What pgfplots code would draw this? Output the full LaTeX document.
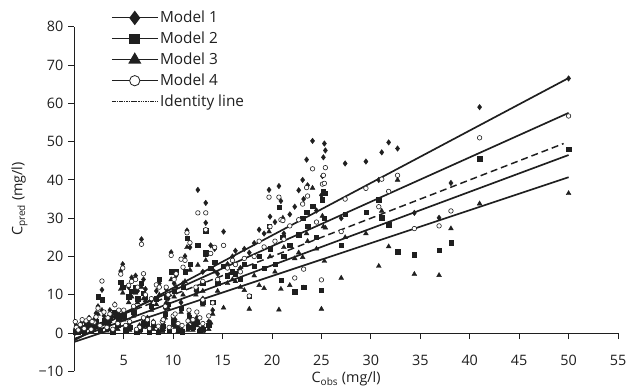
\documentclass[border=0pt]{standalone}
\usepackage{fontspec}
\setmainfont{Open Sans}
\usepackage{pgfplots}
\pgfplotsset{compat=1.18}
\definecolor{ink}{gray}{0.12}
\begin{document}
\fontsize{14.5bp}{17bp}\selectfont
\begin{tikzpicture}
\begin{axis}[
  name=ax,
  scale only axis,
  width=549bp, height=348bp,
  xmin=0, xmax=55, ymin=-10, ymax=80,
  clip=false,
  axis x line*=middle, axis y line*=left,
  axis line style={ink, line width=0.9bp},
  xtick={5,10,...,55},
  xticklabels={5,10,15,20,25,30,35,40,45,50,55},
  ytick={-10,0,10,...,80},
  yticklabels={−10,0,10,20,30,40,50,60,70,80},
  xtick align=outside, ytick align=outside,
  major tick length=6bp,
  tick style={ink, line width=0.9bp},
  ticklabel style={font=\fontsize{14.5bp}{17bp}\selectfont, text=ink},
  xticklabel style={yshift=-11bp},
  xlabel={C\textsubscript{obs} (mg/l)},
  ylabel={C\textsubscript{pred} (mg/l)},
  xlabel style={at={(axis description cs:0.5,0)}, anchor=north, inner sep=0pt, yshift=0bp, font=\fontsize{14.5bp}{17bp}\selectfont, text=ink},
  ylabel style={at={(axis description cs:-0.0856,0.5)}, anchor=south, inner sep=0pt, font=\fontsize{14.5bp}{17bp}\selectfont, text=ink},
  legend style={at={(axis description cs:0.068,1.052)}, anchor=north west, draw=none, fill=none,
    font=\fontsize{15.5bp}{18bp}\selectfont, text=ink, row sep=3.2bp, inner sep=0pt, cells={anchor=west}},
  legend image code/.code={\draw[mark repeat=2,mark phase=2] plot coordinates {(0bp,0bp) (23bp,0bp) (46bp,0bp)};},
]
\addlegendimage{ink, line width=1.1bp, mark=diamond*, mark size=6.5bp, mark options={solid, fill=ink}}
\addlegendentry{Model 1}
\addlegendimage{ink, line width=1.1bp, mark=square*, mark size=4.8bp, mark options={solid, fill=ink}}
\addlegendentry{Model 2}
\addlegendimage{ink, line width=1.1bp, mark=triangle*, mark size=6.5bp, mark options={solid, fill=ink}}
\addlegendentry{Model 3}
\addlegendimage{ink, line width=1.1bp, mark=*, mark size=5.2bp, mark options={solid, fill=white, draw=ink, line width=0.8bp}}
\addlegendentry{Model 4}
\addlegendimage{ink, line width=0.8bp, dash pattern=on 1.6bp off 0.8bp}
\addlegendentry{Identity line}

% Model 1
\addplot[only marks, forget plot, mark=diamond*, mark size=2.8bp, mark options={fill=ink, draw=ink}] coordinates {
(0.1,1.0)(0.2,2.0)(0.4,0.5)(0.6,1.5)(0.8,3.0)(1.0,0.8)(1.2,2.5)(1.5,4.0)(1.7,1.2)(2.0,3.5)(2.2,5.2)(2.4,7.0)(2.8,11.3)(2.6,1.0)(3.0,4.5)(3.3,2.0)(3.6,6.0)(3.9,0.8)(4.1,7.5)(4.4,3.0)(4.7,16.2)(4.9,18.0)(5.0,5.5)(5.2,1.5)(5.5,12.0)(5.8,14.5)(6.0,6.5)(6.2,15.0)(6.4,11.0)(6.6,2.0)(6.8,24.5)(7.0,14.0)(7.2,11.5)(7.4,4.0)(7.6,0.8)(7.8,8.5)(8.0,3.0)(8.3,11.0)(8.6,13.0)(8.9,2.0)(9.2,6.5)(9.5,9.0)(9.8,21.1)(10.0,4.0)(10.3,15.0)(10.5,1.5)(10.8,8.0)(11.0,13.0)(11.2,20.1)(11.4,26.8)(11.6,5.0)(11.7,22.4)(12.0,2.5)(12.3,11.0)(12.5,37.4)(12.7,1.0)(13.0,16.0)(13.3,34.0)(13.3,28.8)(13.6,3.0)(13.8,22.9)(14.0,6.0)(14.2,22.0)(14.5,15.5)(15.1,26.5)(15.5,18.0)(16.0,20.0)(16.3,21.5)(16.8,17.0)(17.2,22.0)(17.7,21.0)(18.2,23.5)(18.7,27.0)(19.2,26.0)(19.7,37.4)(19.8,30.4)(20.3,29.0)(20.7,38.4)(20.9,34.5)(21.1,29.5)(21.2,26.0)(21.8,31.0)(22.3,33.0)(22.7,37.3)(23.1,40.0)(23.2,35.0)(23.5,45.3)(23.6,38.6)(24.1,50.2)(24.5,32.0)(25.0,36.0)(25.1,41.0)(25.2,45.9)(25.3,49.5)(25.4,47.7)(27.0,30.0)(27.4,44.3)(29.5,44.8)(30.8,40.0)(31.1,47.2)(31.8,49.8)(32.7,48.2)(34.4,31.4)(36.9,30.1)(38.1,39.2)(41.0,59.0)(50.0,66.5)(5.6,2.5)(6.3,0.5)(7.0,3.5)(8.5,0.6)(9.0,2.8)(9.6,1.0)(10.2,3.5)(10.9,0.8)(11.5,2.0)(12.4,4.0)(13.0,1.5)(9.3,11.5)(10.1,13.0)(4.5,5.0)(3.4,3.5)(1.8,2.5)(13.0,9.0)
};
% Model 2
\addplot[only marks, forget plot, mark=square*, mark size=2.2bp, mark options={fill=ink, draw=ink}] coordinates {
(0.1,0.3)(0.2,0.8)(0.4,0.2)(0.6,1.0)(0.8,1.5)(1.0,0.4)(1.2,1.8)(1.5,2.5)(1.7,0.6)(2.0,2.2)(2.2,3.0)(2.4,9.5)(2.8,8.7)(2.6,0.5)(3.0,3.2)(3.3,1.2)(3.6,4.0)(3.9,0.4)(4.1,5.5)(4.4,2.0)(4.7,13.3)(4.9,12.0)(5.0,4.5)(5.2,0.8)(5.5,9.5)(5.8,11.0)(6.0,5.5)(6.2,12.0)(6.4,9.0)(6.6,1.0)(6.8,13.0)(7.0,10.5)(7.2,9.5)(7.4,2.5)(7.6,0.4)(7.8,7.0)(8.0,2.0)(8.3,9.0)(8.6,14.1)(8.9,1.0)(9.2,5.0)(9.5,7.5)(9.8,16.0)(10.0,3.0)(10.3,16.0)(10.5,0.8)(10.8,6.5)(11.0,12.0)(11.2,16.0)(11.4,24.7)(11.6,4.0)(11.7,18.0)(12.0,1.5)(12.3,11.5)(12.5,22.9)(12.7,0.5)(13.0,13.0)(13.3,26.7)(13.3,21.0)(13.6,2.0)(13.8,17.0)(14.0,8.0)(14.2,18.5)(14.5,13.0)(15.1,17.5)(15.5,15.0)(16.0,16.0)(16.3,15.5)(16.8,14.0)(17.2,18.0)(17.7,9.7)(18.2,17.5)(18.7,20.0)(19.2,17.0)(19.7,28.0)(19.8,22.0)(20.3,18.0)(20.7,32.9)(20.9,13.8)(21.1,25.0)(21.2,20.0)(21.8,23.0)(22.3,10.8)(22.7,25.7)(23.1,30.0)(23.2,12.0)(23.5,31.5)(23.6,28.0)(24.1,33.2)(24.5,25.0)(25.0,11.2)(25.1,34.8)(25.2,36.9)(25.3,30.0)(25.4,36.6)(27.0,22.9)(27.4,31.0)(29.5,31.5)(30.8,34.8)(31.1,30.1)(31.8,28.3)(32.7,21.3)(34.4,20.5)(36.9,21.6)(38.1,23.6)(41.0,45.5)(50.0,48.0)(5.6,1.5)(6.3,0.3)(7.0,2.5)(8.5,0.3)(9.0,1.8)(9.6,0.5)(10.2,2.5)(10.9,0.4)(11.5,1.5)(12.4,3.0)(13.0,1.0)(9.3,9.5)(10.1,11.0)(4.5,4.0)(3.4,2.8)(1.8,1.7)(13.0,8.0)
};
% Model 3
\addplot[only marks, forget plot, mark=triangle*, mark size=2.8bp, mark options={fill=ink, draw=ink}] coordinates {
(0.1,0.2)(0.2,0.5)(0.4,0.1)(0.6,0.4)(0.8,1.0)(1.0,0.2)(1.2,1.2)(1.5,1.8)(1.7,0.3)(2.0,1.5)(2.2,2.0)(2.4,5.0)(2.8,6.0)(2.6,0.2)(3.0,2.5)(3.3,0.6)(3.6,3.0)(3.9,0.2)(4.1,4.5)(4.4,1.0)(4.7,11.5)(4.9,10.5)(5.0,3.5)(5.2,0.4)(5.5,8.0)(5.8,9.5)(6.0,4.5)(6.2,10.5)(6.4,8.0)(6.6,0.5)(6.8,12.0)(7.0,9.0)(7.2,8.5)(7.4,1.5)(7.6,0.2)(7.8,6.0)(8.0,1.0)(8.3,7.5)(8.6,10.0)(8.9,0.5)(9.2,4.0)(9.5,6.5)(9.8,14.0)(10.0,2.0)(10.3,12.0)(10.5,0.4)(10.8,5.5)(11.0,10.0)(11.2,13.5)(11.4,22.4)(11.6,3.0)(11.7,16.5)(12.0,0.8)(12.3,10.0)(12.5,17.8)(12.7,0.3)(13.0,11.0)(13.3,20.3)(13.3,19.0)(13.6,1.0)(13.8,2.7)(14.0,5.0)(14.2,16.0)(14.5,11.0)(15.1,6.6)(15.5,13.0)(16.0,14.0)(16.3,13.5)(16.8,12.0)(17.2,11.2)(17.7,6.3)(18.2,15.0)(18.7,12.5)(19.2,11.7)(19.7,26.5)(19.8,20.0)(20.3,16.0)(20.7,6.1)(20.9,11.5)(21.1,30.1)(21.2,22.4)(21.8,12.5)(22.3,19.5)(22.7,21.0)(23.1,19.8)(23.2,11.8)(23.5,26.0)(23.6,24.0)(24.1,37.9)(24.5,22.0)(25.0,6.3)(25.1,30.6)(25.2,27.8)(25.3,18.8)(25.4,27.5)(27.0,14.4)(27.4,25.0)(29.5,26.0)(30.8,17.5)(31.1,31.9)(31.8,22.6)(32.7,40.0)(34.4,15.4)(36.9,15.1)(38.1,27.3)(41.0,33.8)(50.0,36.5)(5.6,0.8)(6.3,0.1)(7.0,1.5)(8.5,0.1)(9.0,1.0)(9.6,0.2)(10.2,1.5)(10.9,0.2)(11.5,0.8)(12.4,2.0)(13.0,0.5)(9.3,8.0)(10.1,9.5)(4.5,3.2)(3.4,2.0)(1.8,1.0)(13.0,7.4)
};
% Model 4
\addplot[only marks, forget plot, mark=*, mark size=2.3bp, mark options={fill=white, draw=ink, line width=0.6bp}] coordinates {
(0.1,3.0)(0.2,1.5)(0.4,0.8)(0.6,2.2)(0.8,3.5)(1.0,1.2)(1.2,3.2)(1.5,3.8)(1.7,1.0)(2.0,2.8)(2.2,4.2)(2.4,6.5)(2.8,13.6)(2.6,2.0)(3.0,5.5)(3.3,1.5)(3.6,5.0)(3.9,1.0)(4.1,7.4)(4.4,2.5)(4.7,15.4)(4.9,17.0)(5.0,6.0)(5.2,2.0)(5.5,12.5)(5.8,13.5)(6.0,7.0)(6.2,14.0)(6.4,12.0)(6.6,1.5)(6.8,23.2)(7.0,15.5)(7.2,10.0)(7.4,3.5)(7.6,1.2)(7.8,9.0)(8.0,2.8)(8.3,12.6)(8.6,12.0)(8.9,3.0)(9.2,7.0)(9.5,10.0)(9.8,20.3)(10.0,4.5)(10.3,15.5)(10.5,2.5)(10.8,19.3)(11.0,17.2)(11.2,19.0)(11.4,26.2)(11.6,6.0)(11.7,23.6)(12.0,3.5)(12.3,12.0)(12.5,31.4)(12.7,4.0)(13.0,13.5)(13.3,31.4)(13.3,27.0)(13.6,4.5)(13.8,20.8)(14.0,7.9)(14.2,22.4)(14.5,14.0)(15.1,22.9)(15.5,17.0)(16.0,19.0)(16.3,17.9)(16.8,16.0)(17.2,19.5)(17.7,9.7)(18.2,20.0)(18.7,24.0)(19.2,22.5)(19.7,35.5)(19.8,27.8)(20.3,24.0)(20.7,35.5)(20.9,29.6)(21.1,29.4)(21.2,24.5)(21.8,28.0)(22.3,14.4)(22.7,29.6)(23.1,33.7)(23.2,16.7)(23.5,38.0)(23.6,35.8)(24.1,42.9)(24.5,29.0)(25.0,13.9)(25.1,38.9)(25.2,41.2)(25.3,39.1)(25.4,43.2)(27.0,26.5)(27.4,35.0)(29.5,37.8)(30.8,33.0)(31.1,40.2)(31.8,37.0)(32.7,41.2)(34.4,27.3)(36.9,28.0)(38.1,31.9)(41.0,51.0)(50.0,56.7)(5.6,3.0)(6.3,1.0)(7.0,4.0)(8.5,1.8)(9.0,3.5)(9.6,1.5)(10.2,5.0)(10.9,2.0)(11.5,3.2)(12.4,5.5)(13.0,2.5)(9.3,12.0)(10.1,14.0)(4.5,6.0)(3.4,4.0)(1.8,3.0)(13.0,8.7)
};
% regression lines
\addplot[forget plot, ink, line width=1.7bp] coordinates {(0,-1.9) (50,66.6)};
\addplot[forget plot, ink, line width=1.7bp] coordinates {(0,-0.5) (50,57.5)};
\addplot[forget plot, ink, line width=1.7bp] coordinates {(0,-1.5) (50,46.5)};
\addplot[forget plot, ink, line width=1.7bp] coordinates {(0,-2.3) (50,40.7)};
\addplot[forget plot, ink, line width=1.5bp, dash pattern=on 7bp off 4bp] coordinates {(0,0) (49.5,49.5)};
\end{axis}
\path[use as bounding box] (-75bp,-15bp) rectangle (556bp,375bp);
\end{tikzpicture}
\end{document}
